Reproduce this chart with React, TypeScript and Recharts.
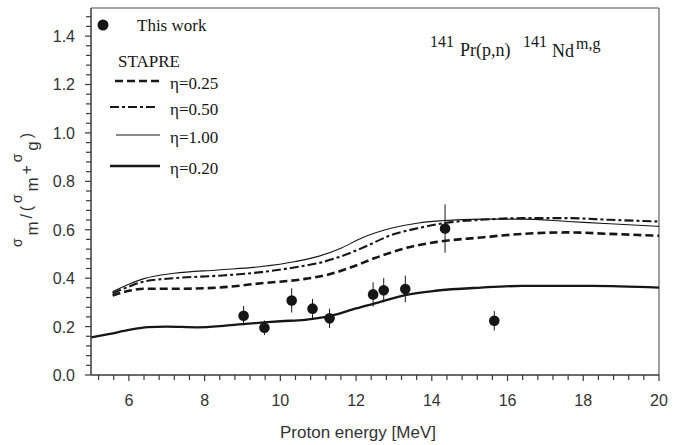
import React from 'react';
import {
  ComposedChart,
  Line,
  Scatter,
  ErrorBar,
  XAxis,
  YAxis,
  Legend,
  ReferenceLine,
} from 'recharts';

// STAPRE model curves: [proton energy (MeV), isomeric ratio]
const eta025: [number, number][] = [
  [5.57, 0.328], [6.0, 0.348], [6.4, 0.356], [7.2, 0.356], [8.35, 0.361],
  [9.5, 0.379], [10.65, 0.397], [11.25, 0.414], [11.8, 0.441], [12.5, 0.483],
  [13.3, 0.524], [14.1, 0.549], [15.3, 0.568], [16.4, 0.583], [17.6, 0.589],
  [18.7, 0.583], [20.0, 0.575],
];
const eta050: [number, number][] = [
  [5.57, 0.338], [6.0, 0.365], [6.4, 0.386], [7.2, 0.4], [8.35, 0.41],
  [9.5, 0.425], [10.4, 0.445], [11.0, 0.462], [11.6, 0.49], [12.15, 0.524],
  [12.95, 0.579], [13.65, 0.607], [14.35, 0.628], [15.3, 0.641], [16.4, 0.648],
  [17.6, 0.648], [18.7, 0.641], [20.0, 0.634],
];
const eta100: [number, number][] = [
  [5.57, 0.345], [6.0, 0.375], [6.4, 0.398], [7.2, 0.42], [8.35, 0.434],
  [9.5, 0.448], [10.4, 0.469], [11.0, 0.49], [11.6, 0.524], [12.15, 0.566],
  [12.95, 0.607], [13.65, 0.628], [14.25, 0.637], [15.3, 0.644], [16.4, 0.644],
  [17.6, 0.634], [18.7, 0.625], [20.0, 0.614],
];
const eta020: [number, number][] = [
  [5.0, 0.155], [5.5, 0.17], [6.0, 0.186], [6.5, 0.198], [7.0, 0.2],
  [7.8, 0.197], [8.5, 0.203], [9.0, 0.21], [9.5, 0.216], [10.0, 0.222],
  [10.65, 0.228], [11.35, 0.245], [12.0, 0.275], [12.6, 0.3], [13.3, 0.33],
  [14.1, 0.348], [15.3, 0.361], [16.4, 0.368], [18.2, 0.368], [20.0, 0.361],
];

// Measured points ("This work")
const measEnergy = [9.03, 9.58, 10.3, 10.85, 11.3, 12.45, 12.73, 13.3, 14.35, 15.65];
const measRatio = [0.245, 0.195, 0.308, 0.274, 0.234, 0.333, 0.35, 0.355, 0.605, 0.224];
const measErr = [0.04, 0.03, 0.05, 0.04, 0.04, 0.05, 0.05, 0.055, 0.1, 0.04];

// Axis ticks
const xMajorLabels = [6, 8, 10, 12, 14, 16, 18, 20];
const yMajorLabels = ['0.0', '0.2', '0.4', '0.6', '0.8', '1.0', '1.2', '1.4'];
const X_DOMAIN: [number, number] = [5, 20];
const Y_DOMAIN: [number, number] = [0, 1.516];

const xTicks: number[] = [];
for (let i = 0; i <= 37; i++) xTicks.push(Math.round((5.2 + i * 0.4) * 10) / 10);
const yTicks: number[] = [];
for (let i = 0; i <= 37; i++) yTicks.push(Math.round(i * 4) / 100);

const toXY = (arr: [number, number][]) => arr.map(([x, y]) => ({ x, y }));
const meas = measEnergy.map((x, i) => ({ x, y: measRatio[i], err: measErr[i] }));

const INK = '#161616';
const AXIS = '#3a3a3a';
const SANS = '"Liberation Sans", Arial, sans-serif';
const SERIF = '"Liberation Serif", "Times New Roman", serif';

const XTick = (props: any) => {
  const { x, y, payload } = props;
  const v = payload.value as number;
  const major = xMajorLabels.includes(v);
  return (
    <g>
      <line x1={x} x2={x} y1={y} y2={y + (major ? 6 : 5)} stroke={AXIS} strokeWidth={1.2} />
      {major && (
        <text x={x} y={y + 31} textAnchor="middle" fontFamily={SANS} fontSize={16} fill="#333">
          {v}
        </text>
      )}
    </g>
  );
};

const YTick = (props: any) => {
  const { x, y, index } = props;
  const major = index % 5 === 0;
  return (
    <g>
      <line x1={x - (major ? 6 : 5)} x2={x} y1={y} y2={y} stroke={AXIS} strokeWidth={1.2} />
      {major && (
        <text x={x - 16} y={y + 6} textAnchor="end" fontFamily={SANS} fontSize={16} fill="#333">
          {yMajorLabels[index / 5]}
        </text>
      )}
    </g>
  );
};

const YLabel = () => (
  <text
    transform="translate(32,247) rotate(-90)"
    x={0}
    y={0}
    fontFamily={SANS}
    fill="#333"
    textLength={114}
    lengthAdjust="spacing"
  >
    <tspan fontSize={14} dy={-10}>σ</tspan>
    <tspan fontSize={17} dy={15.5}>m</tspan>
    <tspan fontSize={16} dy={-5.5}>/(</tspan>
    <tspan fontSize={14} dy={-10}>σ</tspan>
    <tspan fontSize={17} dy={15.5}>m</tspan>
    <tspan fontSize={16} dy={-5.5}>+</tspan>
    <tspan fontSize={14} dy={-10}>σ</tspan>
    <tspan fontSize={17} dy={15.5}>g</tspan>
    <tspan fontSize={16} dy={-5.5}>)</tspan>
  </text>
);

const XLabel = () => (
  <text x={358} y={438} textAnchor="middle" fontFamily={SANS} fontSize={17} fill="#333">
    Proton energy [MeV]
  </text>
);

const legendLines = [
  { label: 'η=0.25', y: 81, dash: '8 4', w: 2.6, x1: 115, x2: 160 },
  { label: 'η=0.50', y: 107, dash: '9 3 3 3', w: 2.1, x1: 110, x2: 157 },
  { label: 'η=1.00', y: 135, dash: undefined, w: 1.1, x1: 116, x2: 160 },
  { label: 'η=0.20', y: 166, dash: undefined, w: 2.3, x1: 110, x2: 160 },
];

const LegendBox = () => (
  <svg width={682} height={445} style={{ display: 'block', overflow: 'visible' }}>
    <circle cx={103} cy={25} r={5.5} fill={INK} />
    <text x={137} y={31} fontFamily={SERIF} fontSize={17} fill={INK}>This work</text>
    <text x={118} y={67} fontFamily={SERIF} fontSize={17} fill={INK}>STAPRE</text>
    {legendLines.map((l) => (
      <g key={l.label}>
        <line x1={l.x1} x2={l.x2} y1={l.y} y2={l.y} stroke={INK} strokeWidth={l.w} strokeDasharray={l.dash} />
        <text x={170} y={l.y + 8} fontFamily={SERIF} fontSize={17} fill={INK}>{l.label}</text>
      </g>
    ))}
    <g fontFamily={SERIF} fill={INK}>
      <text x={430} y={47} fontSize={16}>141</text>
      <text x={460} y={56} fontSize={18}>Pr(p,n)</text>
      <text x={523} y={47} fontSize={16}>141</text>
      <text x={552} y={57} fontSize={18}>Nd</text>
      <text x={576} y={49} fontSize={16}>m,g</text>
    </g>
  </svg>
);

export default function App() {
  return (
    <div style={{ position: 'absolute', left: 0, top: 0, width: 682, height: 445, background: '#fff' }}>
      <ComposedChart width={682} height={445} margin={{ top: 8, right: 23, bottom: 0, left: 0 }}>
        <XAxis
          type="number"
          dataKey="x"
          domain={X_DOMAIN}
          ticks={xTicks}
          interval={0}
          tickSize={0}
          tickMargin={0}
          tickLine={false}
          tick={<XTick />}
          height={70}
          allowDataOverflow
          axisLine={{ stroke: AXIS, strokeWidth: 1.5 }}
          label={{ content: () => <XLabel /> }}
        />
        <YAxis
          type="number"
          domain={Y_DOMAIN}
          ticks={yTicks}
          interval={0}
          tickSize={0}
          tickMargin={0}
          tickLine={false}
          tick={<YTick />}
          width={91}
          allowDataOverflow
          axisLine={{ stroke: AXIS, strokeWidth: 1.5 }}
          label={{ content: () => <YLabel /> }}
        />
        <ReferenceLine y={Y_DOMAIN[1]} stroke="#888" strokeWidth={1.6} />
        <ReferenceLine x={20} stroke="#777" strokeWidth={1.4} />
        <Line data={toXY(eta100)} dataKey="y" type="monotone" stroke={INK} strokeWidth={1.1} dot={false} isAnimationActive={false} />
        <Line data={toXY(eta050)} dataKey="y" type="monotone" stroke={INK} strokeWidth={2.1} strokeDasharray="9 3 3 3" dot={false} isAnimationActive={false} />
        <Line data={toXY(eta025)} dataKey="y" type="monotone" stroke={INK} strokeWidth={2.6} strokeDasharray="8 4" dot={false} isAnimationActive={false} />
        <Line data={toXY(eta020)} dataKey="y" type="monotone" stroke={INK} strokeWidth={2.3} dot={false} isAnimationActive={false} />
        <Scatter
          data={meas}
          dataKey="y"
          isAnimationActive={false}
          shape={(p: any) => <circle cx={p.cx} cy={p.cy} r={5.3} fill={INK} />}
        >
          <ErrorBar dataKey="err" direction="y" width={0} stroke={INK} strokeWidth={1} />
        </Scatter>
        <Legend
          layout="vertical"
          align="center"
          verticalAlign="middle"
          content={() => <LegendBox />}
          wrapperStyle={{ position: 'absolute', left: 0, top: 0, width: 682, height: 445, pointerEvents: 'none' }}
        />
      </ComposedChart>
    </div>
  );
}
